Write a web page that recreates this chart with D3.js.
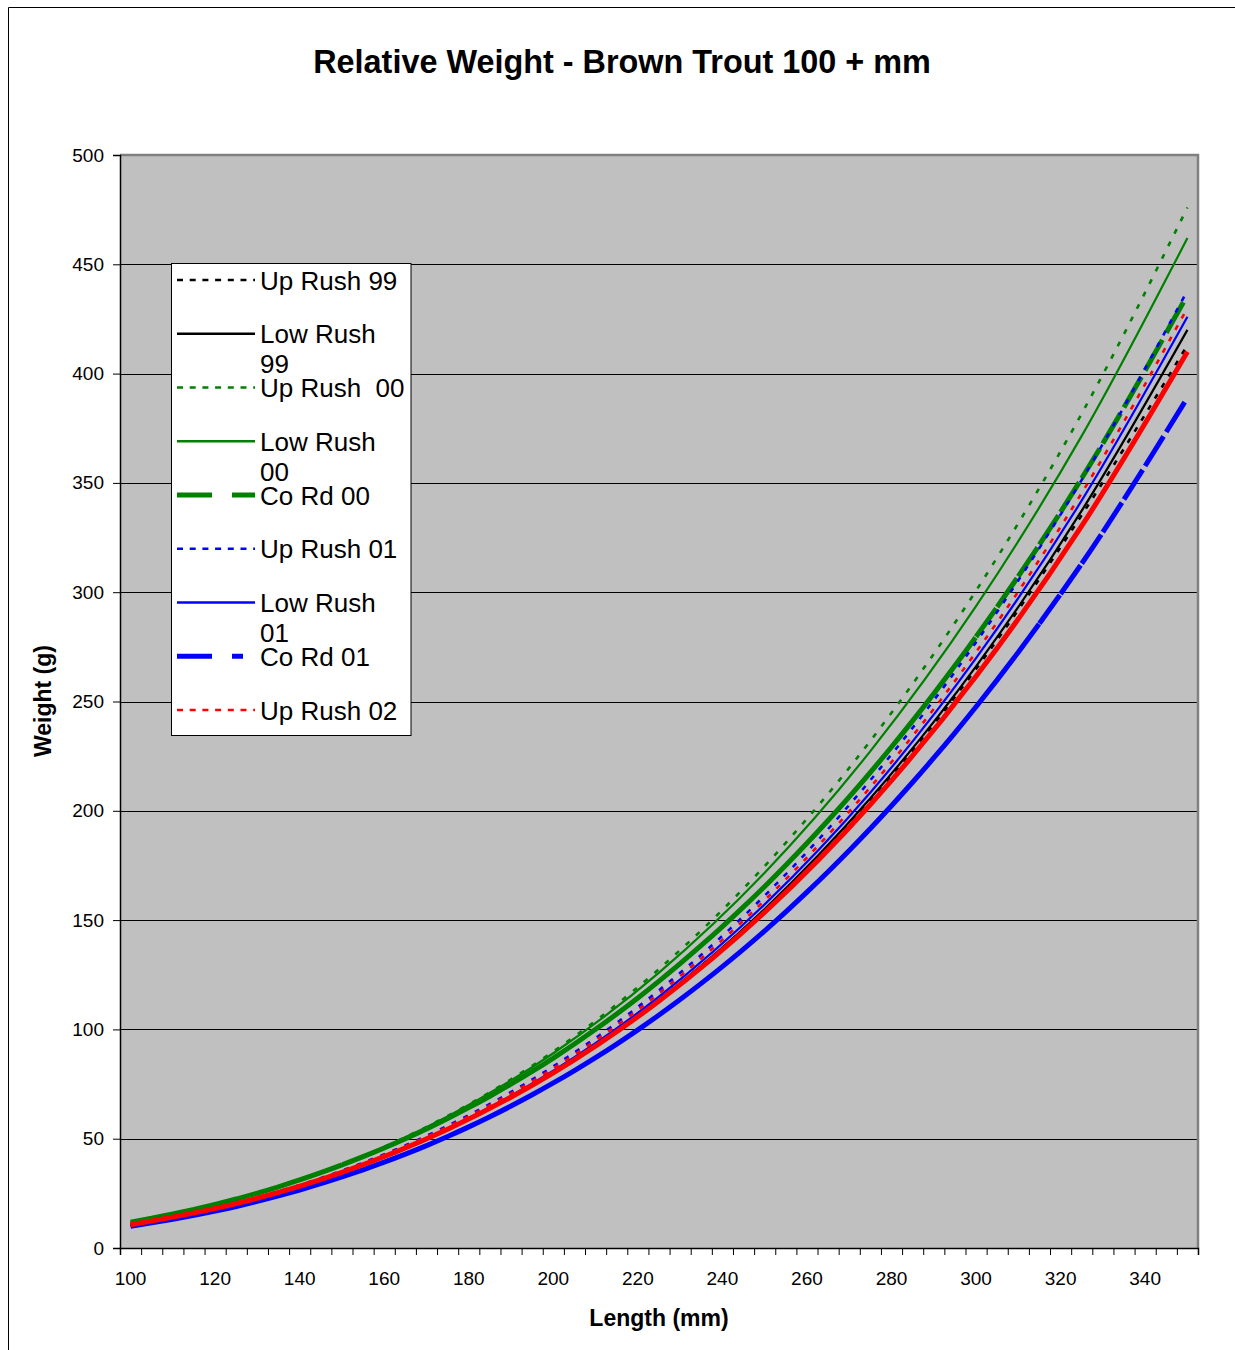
<!DOCTYPE html>
<html>
<head>
<meta charset="utf-8">
<script src="https://cdn.jsdelivr.net/npm/d3@7"></script>
<style>
  body { margin: 0; background: #fff; }
  svg { display: block; font-family: "Liberation Sans", Arial, sans-serif; }
</style>
</head>
<body>
<svg id="chart" width="1235" height="1350"></svg>
<script>
// Fish length (mm) at which each series is tabulated
const lengths = [100, 125, 150, 175, 200, 225, 250, 275, 300, 325, 350];

// Standard weight (g) per length for each site / year
const upRush99  = [10.4, 20.1, 34.4, 54.1, 80.2, 113.5, 154.8, 204.9, 264.9, 335.3, 413];
const lowRush99 = [10.3, 19.9, 34.2, 54.0, 80.1, 113.6, 155.1, 205.7, 266.1, 337.3, 420];
const upRush00  = [11.4, 22.2, 38.2, 60.4, 89.9, 127.6, 174.7, 232.0, 300.7, 381.7, 476];
const lowRush00 = [11.6, 22.4, 38.2, 60.2, 89.1, 126.0, 171.7, 227.3, 293.6, 371.5, 462];
const coRd00    = [11.8, 22.4, 38.0, 59.2, 86.9, 122.1, 165.4, 217.6, 279.6, 352.1, 436];
const upRush01  = [10.6, 20.6, 35.4, 55.9, 83.1, 117.9, 161.2, 214.0, 277.1, 351.4, 438];
const lowRush01 = [10.4, 20.2, 34.6, 54.6, 81.1, 115.0, 157.2, 208.4, 269.8, 342.0, 426];
const coRd01    = [9.9, 19.0, 32.5, 51.0, 75.5, 106.6, 145.1, 191.9, 247.6, 313.1, 389];
const upRush02  = [10.6, 20.5, 35.1, 55.4, 82.2, 116.5, 159.1, 210.8, 272.6, 345.4, 430];
const lowRush02 = [10.6, 20.3, 34.6, 54.3, 80.1, 113.0, 153.6, 202.9, 261.5, 330.3, 410];

const seriesNames = ["Up Rush 99", "Low Rush 99", "Up Rush  00", "Low Rush 00", "Co Rd 00",
                     "Up Rush 01", "Low Rush 01", "Co Rd 01", "Up Rush 02", "Low Rush 02"];
const seriesValues = [upRush99, lowRush99, upRush00, lowRush00, coRd00,
                      upRush01, lowRush01, coRd01, upRush02, lowRush02];

// Axis tick values and labels
const xLabels = [100, 120, 140, 160, 180, 200, 220, 240, 260, 280, 300, 320, 340];
const yTicks = [0, 50, 100, 150, 200, 250, 300, 350, 400, 450, 500];

// Line styling per series ("segment" = long dash restarted every 5 mm category)
const styles = [
  { color: "#000000", width: 2.6, dash: "5,8",     legendDash: "6,6.7" },
  { color: "#000000", width: 2.2, dash: null,      legendDash: null },
  { color: "#008000", width: 2.6, dash: "5,9",     legendDash: "6,6.7" },
  { color: "#008000", width: 2.2, dash: null,      legendDash: null },
  { color: "#008000", width: 5,   dash: "segment", legendDash: "35,20" },
  { color: "#0000ff", width: 2.6, dash: "5,8",     legendDash: "6,6.7" },
  { color: "#0000ff", width: 2.2, dash: null,      legendDash: null },
  { color: "#0000ff", width: 5,   dash: "segment", legendDash: "35,20,11,20" },
  { color: "#ff0000", width: 2.6, dash: "5,8",     legendDash: "6,6.7" },
  { color: "#ff0000", width: 5,   dash: null,      legendDash: null }
];

const svg = d3.select("#chart");

// Outer chart frame (left and top edges)
svg.append("path")
  .attr("d", "M8.5,1350 V7.5 H1235")
  .attr("fill", "none").attr("stroke", "#000").attr("stroke-width", 1);

const plot = { left: 120, right: 1198, top: 155, bottom: 1248 };

const x = d3.scaleLinear().domain([97.5, 352.5]).range([plot.left, plot.right]);
const y = d3.scaleLinear().domain([0, 500]).range([plot.bottom, plot.top]);

// Title
svg.append("text")
  .attr("x", 622).attr("y", 73)
  .attr("text-anchor", "middle")
  .attr("font-size", 32.4).attr("font-weight", "bold")
  .text("Relative Weight - Brown Trout 100 + mm");

// Plot area background
svg.append("rect")
  .attr("x", plot.left).attr("y", plot.top)
  .attr("width", plot.right - plot.left).attr("height", plot.bottom - plot.top)
  .attr("fill", "#c0c0c0");

// Horizontal gridlines
svg.append("g").selectAll("line")
  .data(yTicks.filter(v => v > 0 && v < 500))
  .join("line")
  .attr("x1", plot.left).attr("x2", plot.right)
  .attr("y1", d => Math.round(y(d)) + 0.5).attr("y2", d => Math.round(y(d)) + 0.5)
  .attr("stroke", "#000").attr("stroke-width", 1);

// Plot border (top / right)
svg.append("path")
  .attr("d", `M${plot.left},${plot.top} H${plot.right} V${plot.bottom}`)
  .attr("fill", "none").attr("stroke", "#808080").attr("stroke-width", 2.5);

// Series lines
const line = d3.line()
  .x((d, i) => x(lengths[i]))
  .y(d => y(d))
  .curve(d3.curveMonotoneX);

// Category centres every 5 mm: a long dash restarts at each one
const categoryX = d3.range(100, 351, 5).map(v => x(v));
function segmentDashArray(node, dashLen) {
  const total = node.getTotalLength();
  const lengthAtX = tx => {
    let lo = 0, hi = total;
    for (let i = 0; i < 28; i++) {
      const mid = (lo + hi) / 2;
      if (node.getPointAtLength(mid).x < tx) lo = mid; else hi = mid;
    }
    return (lo + hi) / 2;
  };
  const ls = categoryX.map(lengthAtX);
  ls[0] = 0; ls[ls.length - 1] = total;
  const parts = [];
  for (let k = 0; k < ls.length - 1; k++) {
    const seg = ls[k + 1] - ls[k];
    if (seg <= dashLen) parts.push(seg.toFixed(2), 0);
    else parts.push(dashLen, (seg - dashLen).toFixed(2));
  }
  return parts.join(",");
}

const linesG = svg.append("g");
seriesValues.forEach((vals, i) => {
  const s = styles[i];
  const p = linesG.append("path")
    .datum(vals)
    .attr("d", line)
    .attr("fill", "none")
    .attr("stroke", s.color)
    .attr("stroke-width", s.width)
    .attr("stroke-linejoin", "round");
  if (s.dash === "segment") p.attr("stroke-dasharray", segmentDashArray(p.node(), 35));
  else if (s.dash) p.attr("stroke-dasharray", s.dash);
});

// Y axis
const yAxis = d3.axisLeft(y).tickValues(yTicks).tickSize(7).tickPadding(9);
const yG = svg.append("g").attr("transform", `translate(${plot.left},0)`).call(yAxis);
yG.select(".domain").attr("stroke", "#000").attr("stroke-width", 1.5);
yG.selectAll(".tick line").attr("stroke", "#000");
yG.selectAll("text").attr("font-size", 19).attr("font-family", "Liberation Sans, Arial, sans-serif").attr("fill", "#000");

// X axis: ticks on category boundaries every 5 mm, labels every 20 mm
const xBoundaries = d3.range(0, 52).map(k => 97.5 + 5 * k);
const xAxis = d3.axisBottom(x).tickValues(xBoundaries).tickSize(7).tickFormat("");
const xG = svg.append("g").attr("transform", `translate(0,${plot.bottom})`).call(xAxis);
xG.select(".domain").attr("stroke", "#000").attr("stroke-width", 1.5);
xG.selectAll(".tick line").attr("stroke", "#000");

svg.append("g").selectAll("text")
  .data(xLabels)
  .join("text")
  .attr("x", d => x(d)).attr("y", 1285)
  .attr("text-anchor", "middle")
  .attr("font-size", 19)
  .text(d => d);

// Axis titles
svg.append("text")
  .attr("x", 659).attr("y", 1326)
  .attr("text-anchor", "middle")
  .attr("font-size", 23).attr("font-weight", "bold")
  .text("Length (mm)");

svg.append("text")
  .attr("transform", "translate(51,701) rotate(-90)")
  .attr("text-anchor", "middle")
  .attr("font-size", 23).attr("font-weight", "bold")
  .text("Weight (g)");

// Legend
const legend = { left: 171.5, top: 263.5, right: 411, bottom: 735.5, rowStart: 280, rowStep: 53.75 };
const legendG = svg.append("g");
legendG.append("rect")
  .attr("x", legend.left).attr("y", legend.top)
  .attr("width", legend.right - legend.left).attr("height", legend.bottom - legend.top)
  .attr("fill", "#fff").attr("stroke", "#000").attr("stroke-width", 1);

const legendCount = 9;
const textX = 260;
const maxTextWidth = legend.right - textX - 2;
for (let i = 0; i < legendCount; i++) {
  const s = styles[i];
  const ry = legend.rowStart + i * legend.rowStep;
  legendG.append("line")
    .attr("x1", 177).attr("x2", 255)
    .attr("y1", ry).attr("y2", ry)
    .attr("stroke", s.color)
    .attr("stroke-width", s.width === 5 ? 5 : 2.6)
    .attr("stroke-dasharray", s.legendDash);

  const t = legendG.append("text")
    .attr("x", textX).attr("y", ry + 9.5)
    .attr("font-size", 26)
    .style("white-space", "pre")
    .text(seriesNames[i]);
  // wrap onto a second line when the label is wider than the box
  if (t.node().getComputedTextLength() > maxTextWidth) {
    const name = seriesNames[i];
    const cut = name.lastIndexOf(" ");
    t.text(null);
    t.append("tspan").attr("x", textX).text(name.slice(0, cut));
    t.append("tspan").attr("x", textX).attr("dy", 30).text(name.slice(cut + 1));
  }
}
</script>
</body>
</html>
